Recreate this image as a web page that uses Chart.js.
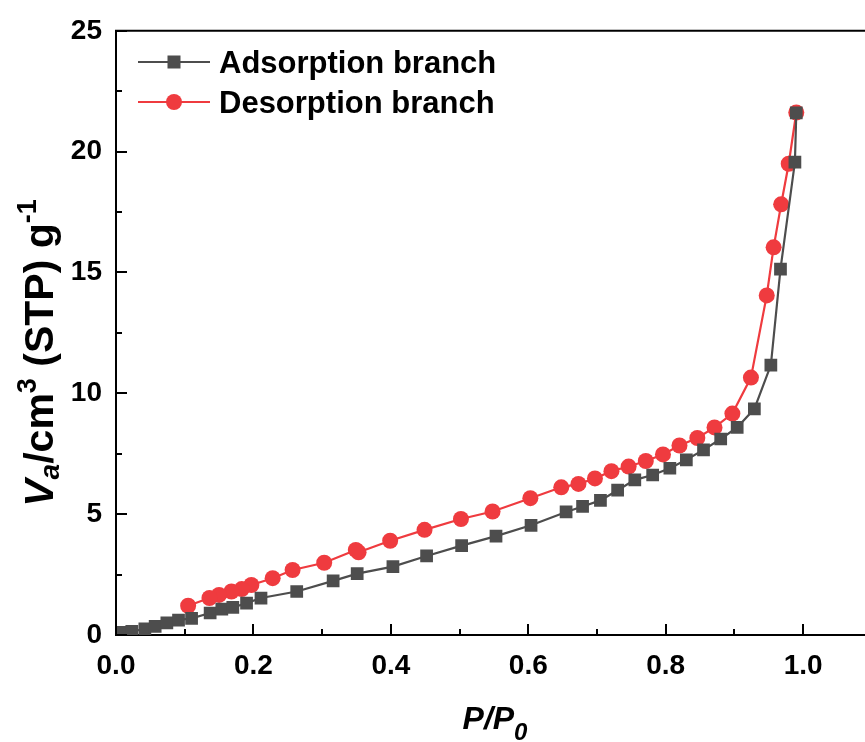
<!DOCTYPE html>
<html>
<head>
<meta charset="utf-8">
<script src="https://cdn.jsdelivr.net/npm/chart.js@4.4.0/dist/chart.umd.min.js"></script>
<style>
  html, body { margin: 0; padding: 0; background: #fff; overflow: hidden; }
  #wrap { width: 865px; height: 742px; position: relative; }
</style>
</head>
<body>
<div id="wrap"><canvas id="chart"></canvas></div>
<script>
// values
const adsX = [0.008, 0.023, 0.042, 0.057, 0.074, 0.091, 0.110, 0.137, 0.154, 0.170, 0.190, 0.211,
  0.263, 0.316, 0.351, 0.403, 0.452, 0.503, 0.553, 0.604, 0.655, 0.679, 0.705, 0.730, 0.755,
  0.781, 0.806, 0.830, 0.855, 0.880, 0.904, 0.929, 0.953, 0.967, 0.988, 0.990];
const adsY = [0.11, 0.15, 0.25, 0.36, 0.50, 0.62, 0.69, 0.91, 1.07, 1.14, 1.32, 1.53,
  1.80, 2.24, 2.54, 2.83, 3.27, 3.70, 4.09, 4.54, 5.09, 5.32, 5.57, 5.99, 6.42,
  6.62, 6.90, 7.25, 7.66, 8.11, 8.59, 9.36, 11.17, 15.14, 19.57, 21.60];

const desX = [0.990, 0.979, 0.968, 0.957, 0.947, 0.924, 0.897, 0.871, 0.846, 0.820, 0.796,
  0.771, 0.746, 0.721, 0.697, 0.673, 0.648, 0.603, 0.548, 0.502, 0.449, 0.399, 0.353, 0.349,
  0.303, 0.257, 0.228, 0.197, 0.183, 0.168, 0.150, 0.136, 0.105];
const desY = [21.62, 19.50, 17.82, 16.04, 14.05, 10.65, 9.16, 8.59, 8.15, 7.84, 7.47,
  7.20, 6.97, 6.78, 6.48, 6.25, 6.11, 5.66, 5.11, 4.80, 4.35, 3.90, 3.42, 3.52,
  2.99, 2.69, 2.35, 2.07, 1.90, 1.80, 1.66, 1.53, 1.21];

const xTicks = [0, 0.1, 0.2, 0.3, 0.4, 0.5, 0.6, 0.7, 0.8, 0.9, 1.0];
const yTicks = [0, 2.5, 5, 7.5, 10, 12.5, 15, 17.5, 20, 22.5, 25];
const seriesNames = ['Adsorption branch', 'Desorption branch'];

const GRAY = '#4d4d4d';
const RED = '#ef3b3f';
const FONT = '"Liberation Sans", Arial, sans-serif';

function toPoints(xs, ys) {
  return xs.map((x, i) => ({ x, y: ys[i] }));
}

function isMajorX(v) { return Math.round(v * 10) % 2 === 0; }
function isMajorY(v) { return Math.abs(v % 5) < 1e-6; }

// draws a run of text pieces, each with its own font and baseline shift
function drawRich(ctx, parts, x, y, align) {
  let total = 0;
  parts.forEach((p) => { ctx.font = p.font; total += ctx.measureText(p.text).width; });
  let cx = align === 'center' ? x - total / 2 : x;
  parts.forEach((p) => {
    ctx.font = p.font;
    ctx.fillText(p.text, cx, y + (p.dy || 0));
    cx += ctx.measureText(p.text).width;
  });
}

const decor = {
  id: 'decor',
  afterDraw(chart) {
    const { ctx, chartArea: area, scales } = chart;
    const xs = scales.x, ys = scales.y;
    ctx.save();
    ctx.strokeStyle = '#000';
    ctx.lineWidth = 2;

    // top frame line
    ctx.beginPath();
    ctx.moveTo(area.left - 1, area.top);
    ctx.lineTo(chart.width, area.top);
    ctx.stroke();

    // inward ticks
    xTicks.forEach((v) => {
      const px = Math.round(xs.getPixelForValue(v));
      const len = isMajorX(v) ? 11 : 6;
      ctx.beginPath();
      ctx.moveTo(px, area.bottom);
      ctx.lineTo(px, area.bottom - len);
      ctx.stroke();
    });
    yTicks.forEach((v) => {
      const py = Math.round(ys.getPixelForValue(v));
      const len = isMajorY(v) ? 11 : 6;
      ctx.beginPath();
      ctx.moveTo(area.left, py);
      ctx.lineTo(area.left + len, py);
      ctx.stroke();
    });

    // legend
    const rows = [
      { name: seriesNames[0], color: GRAY, shape: 'rect', y: 62 },
      { name: seriesNames[1], color: RED, shape: 'circle', y: 102 },
    ];
    rows.forEach((r) => {
      ctx.strokeStyle = r.color;
      ctx.fillStyle = r.color;
      ctx.lineWidth = 2;
      ctx.beginPath();
      ctx.moveTo(138, r.y);
      ctx.lineTo(210, r.y);
      ctx.stroke();
      if (r.shape === 'rect') {
        ctx.fillRect(174 - 6.5, r.y - 6.5, 13, 13);
      } else {
        ctx.beginPath();
        ctx.arc(174, r.y, 8, 0, Math.PI * 2);
        ctx.fill();
      }
      ctx.fillStyle = '#000';
      ctx.font = `bold 31px ${FONT}`;
      ctx.textAlign = 'left';
      ctx.textBaseline = 'middle';
      ctx.fillText(r.name, 219, r.y + 2);
    });

    // axis titles
    ctx.fillStyle = '#000';
    ctx.textAlign = 'left';
    ctx.textBaseline = 'alphabetic';
    drawRich(ctx, [
      { text: 'P/P', font: `italic bold 32px ${FONT}` },
      { text: '0', font: `italic bold 24px ${FONT}`, dy: 11 },
    ], 495, 729, 'center');

    ctx.translate(53, 353);
    ctx.rotate(-Math.PI / 2);
    drawRich(ctx, [
      { text: 'V', font: `italic bold 41px ${FONT}` },
      { text: 'a', font: `italic bold 28px ${FONT}`, dy: 6 },
      { text: '/cm', font: `bold 41px ${FONT}` },
      { text: '3', font: `bold 27px ${FONT}`, dy: -17 },
      { text: ' (STP) g', font: `bold 41px ${FONT}` },
      { text: '-1', font: `bold 27px ${FONT}`, dy: -17 },
    ], 0, 0, 'center');
    ctx.restore();
  },
};

const ctx = document.getElementById('chart');
new Chart(ctx, {
  type: 'scatter',
  data: {
    datasets: [
      {
        label: seriesNames[0],
        data: toPoints(adsX, adsY),
        showLine: true,
        borderColor: GRAY,
        backgroundColor: GRAY,
        borderWidth: 2.2,
        pointStyle: 'rect',
        pointRadius: 9,
        pointBorderWidth: 0,
        pointHoverRadius: 9,
      },
      {
        label: seriesNames[1],
        data: toPoints(desX, desY),
        showLine: true,
        borderColor: RED,
        backgroundColor: RED,
        borderWidth: 2.2,
        pointStyle: 'circle',
        pointRadius: 8,
        pointBorderWidth: 0,
        pointHoverRadius: 8,
      },
    ],
  },
  options: {
    responsive: true,
    maintainAspectRatio: false,
    animation: false,
    layout: { autoPadding: false, padding: { top: 27, left: 0, right: 0, bottom: 0 } },
    plugins: {
      legend: { display: false },
      tooltip: { enabled: false },
    },
    scales: {
      x: {
        type: 'linear',
        min: 0,
        max: 1.09,
        afterBuildTicks: (scale) => { scale.ticks = xTicks.map((v) => ({ value: v })); },
        afterFit: (scale) => { scale.height = 107; },
        grid: { display: false, drawTicks: false },
        border: { display: true, color: '#000', width: 2 },
        ticks: {
          padding: 14,
          color: '#000',
          maxRotation: 0,
          autoSkip: false,
          font: { family: FONT, size: 28, weight: 'bold' },
          callback: (v) => (isMajorX(v) ? v.toFixed(1) : ''),
        },
      },
      y: {
        type: 'linear',
        min: 0,
        max: 25,
        afterBuildTicks: (scale) => { scale.ticks = yTicks.map((v) => ({ value: v })); },
        afterFit: (scale) => { scale.width = 116; },
        grid: { display: false, drawTicks: false },
        border: { display: true, color: '#000', width: 2 },
        ticks: {
          padding: 14,
          color: '#000',
          autoSkip: false,
          font: { family: FONT, size: 28, weight: 'bold' },
          callback: (v) => (isMajorY(v) ? String(v) : ''),
        },
      },
    },
  },
  plugins: [decor],
});
</script>
</body>
</html>
